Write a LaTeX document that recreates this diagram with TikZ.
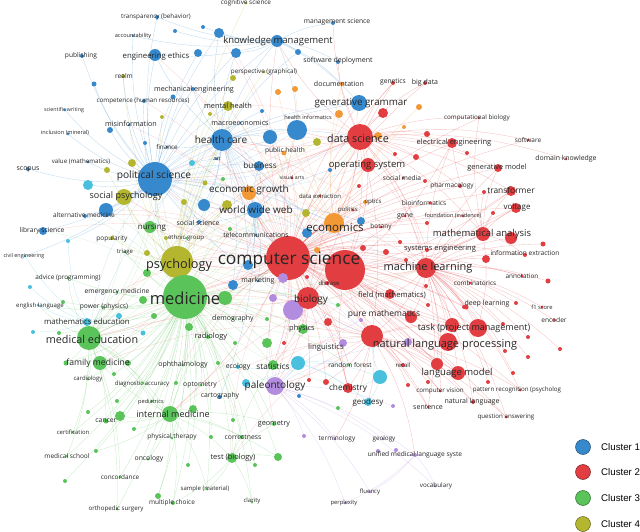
\documentclass[tikz,border=0pt]{standalone}
\usepackage{fontspec}
\setmainfont{Open Sans}
\newfontfamily\legfont{Liberation Sans}
\pgfdeclarelayer{bg}\pgfdeclarelayer{fg}\pgfsetlayers{bg,main,fg}
\definecolor{c1}{RGB}{55,137,205}
\definecolor{c2}{RGB}{226,62,66}
\definecolor{c3}{RGB}{90,195,90}
\definecolor{c4}{RGB}{180,182,48}
\definecolor{c5}{RGB}{72,192,222}
\definecolor{c6}{RGB}{242,152,52}
\definecolor{c7}{RGB}{178,140,222}
\tikzset{dot/.style={circle,inner sep=0pt,draw=none},
 lbl/.style={inner sep=0pt,text=black!85,font=\fontsize{#1}{#1}\selectfont},
 e/.style={line width=0.35pt,draw opacity=0.32},
 ex/.style={line width=0.35pt,draw opacity=0.22},
 legdot/.style={circle,inner sep=0pt,minimum size=15pt,line width=0.5pt},
 legtxt/.style={anchor=west,inner sep=0pt,font=\legfont\fontsize{9.7}{9.7}\selectfont}}
\def\Nd#1#2#3#4#5#6#7#8#9{\node[dot,fill=#2,minimum size=#3*2pt] (#1) at (#4,#5) {};\begin{pgfonlayer}{fg}\node[lbl=#8] (#1-t) at (#6,#7) {#9};\end{pgfonlayer}}
\def\Dt#1#2#3#4#5{\node[dot,fill=#2,minimum size=#3*2pt] (#1) at (#4,#5) {};}
\begin{document}
\begin{tikzpicture}[x=1pt,y=-1pt]
\useasboundingbox (0,0) rectangle (640,532);
% cluster 1 area (top left)
\Nd{tb}{c1}{2}{157}{17}{156}{17}{6.3}{transparency (behavior)}
\Nd{acc}{c1}{1.5}{133}{36}{133}{36}{5.6}{accountability}
\Nd{pub}{c1}{2}{82}{56}{81}{56}{6.6}{publishing}
\Nd{ee}{c1}{6}{155}{55}{156}{56}{7.8}{engineering ethics}
\Dt{b1}{c1}{4}{198}{53}
\Nd{realm}{c4}{2}{123}{76}{124}{76}{6.6}{realm}
\Dt{b2}{c1}{2.5}{94}{84}
\Nd{comp}{c1}{2}{144}{101}{143}{101}{6.3}{competence (human resources)}
\Nd{sw}{c1}{1.5}{65}{110}{64}{110}{5.3}{scientific writing}
\Nd{mis}{c1}{1.5}{129}{125}{131}{124}{7.2}{misinformation}
\Dt{b3}{c1}{3}{110}{130}
\Nd{inc}{c1}{1.5}{68}{134}{65}{133}{5.6}{inclusion (mineral)}
\Dt{b4}{c1}{2}{145}{143}
\Nd{fin}{c1}{1.5}{167}{147}{167}{147}{6.3}{finance}
\Nd{val}{c1}{1.5}{88}{162}{81}{162}{6.2}{value (mathematics)}
\Dt{o1}{c4}{4}{132}{163}
\Dt{o2}{c4}{3}{107}{170}
\Nd{scop}{c1}{2}{28}{169}{28}{169}{7}{scopus}
\Nd{ps}{c1}{17}{155}{179}{154}{176}{10.2}{political science}
\Nd{cog}{c4}{1.5}{246}{3}{246}{3}{6.4}{cognitive science}
\Dt{b5}{c1}{2}{175}{31}
\Dt{b6}{c1}{2}{203}{27}
\Dt{b7}{c1}{5}{219}{33}
\Nd{km}{c1}{6}{277}{41}{278}{41}{9.5}{knowledge management}
\Dt{b8}{c1}{5}{236}{53}
\Dt{b9}{c1}{3}{298}{52}
\Nd{persp}{c4}{1.5}{264}{72}{264}{72}{6.3}{perspective (graphical)}
\Dt{o3}{c4}{3}{233}{78}
\Dt{or1}{c6}{3}{278}{92}
\Dt{or2}{c6}{3}{295}{89}
\Nd{mech}{c1}{2}{193}{89}{194}{90}{7.2}{mechanical engineering}
\Dt{b10}{c1}{2.5}{173}{97}
\Nd{mh}{c4}{5}{228}{106}{228}{106}{7.4}{mental health}
\Dt{b11}{c1}{2}{262}{111}
\Dt{o4}{c4}{2}{162}{117}
\Dt{o5}{c4}{2}{210}{114}
\Nd{macro}{c1}{1.5}{240}{123}{240}{123}{7.2}{macroeconomics}
\Nd{hi}{c1}{10}{297}{130}{308}{117}{5.6}{health informatics}
\Dt{b12}{c1}{7}{270}{137}
\Nd{hc}{c1}{11}{222}{140}{221}{140}{10.1}{health care}
\Dt{o6}{c4}{4}{317}{142}
\Nd{ph}{c6}{2.5}{284}{153}{285}{151}{6.6}{public health}
\Nd{art}{c1}{1.5}{217}{159}{217}{159}{5.5}{art}
\Dt{cy1}{c5}{3}{192}{163}
\Nd{bus}{c1}{5}{259}{166}{260}{165}{8.2}{business}
% top centre/right
\Nd{ms}{c1}{2}{333}{23}{337}{22}{6.7}{management science}
\Nd{sd}{c1}{2}{338}{62}{338}{61}{7}{software deployment}
\Nd{doc}{c6}{2}{342}{84}{339}{84}{7}{documentation}
\Nd{gen}{c2}{2}{393}{83}{393}{82}{6.7}{genetics}
\Nd{bd}{c2}{2}{425}{83}{425}{83}{7}{big data}
\Nd{gg}{c1}{8}{359}{103}{361}{103}{9.8}{generative grammar}
\Dt{r1}{c2}{5}{383}{113}
\Dt{or3}{c6}{3}{419}{107}
\Dt{or4}{c6}{4}{339}{114}
\Nd{cb}{c2}{1.5}{479}{118}{477}{118}{6.3}{computational biology}
\Dt{or5}{c6}{2}{404}{127}
\Dt{r2}{c2}{3}{427}{134}
\Nd{ds}{c2}{13}{360}{137}{358}{138}{10.7}{data science}
\Dt{or6}{c6}{4}{378}{136}
\Nd{elec}{c2}{5}{452}{143}{454}{143}{7.5}{electrical engineering}
\Dt{r3}{c2}{2}{467}{153}
\Dt{r4}{c2}{2}{395}{154}
\Dt{r5}{c2}{3}{416}{157}
\Nd{os}{c2}{7}{368}{165}{367}{165}{9.5}{operating system}
\Nd{gm}{c2}{4}{498}{168}{497}{168}{7.3}{generative model}
\Nd{soft}{c2}{1.5}{528}{140}{528}{140}{6.5}{software}
\Nd{dk}{c2}{1.5}{566}{159}{566}{159}{6.9}{domain knowledge}
\Dt{b13}{c1}{2}{330}{170}
% centre right
\Nd{sm}{c2}{1.5}{403}{178}{402}{178}{6.6}{social media}
\Dt{r6}{c2}{2}{425}{181}
\Nd{pharm}{c2}{2}{460}{186}{452}{186}{6.5}{pharmacology}
\Dt{r7}{c2}{2}{359}{186}
\Nd{opt}{c6}{2}{365}{202}{373}{202}{6.1}{optics}
\Nd{bioinf}{c2}{1.5}{430}{203}{424}{203}{6.6}{bioinformatics}
\Nd{dex}{c2}{1.5}{320}{196}{320}{196}{6}{data extraction}
\Nd{pol}{c2}{1.5}{353}{210}{348}{210}{6}{politics}
\Nd{gene}{c2}{1.5}{405}{216}{405}{216}{7}{gene}
\Nd{fe}{c2}{1.5}{463}{216}{453}{216}{5.6}{foundation (evidence)}
\Dt{b14}{c1}{4}{361}{221}
\Dt{r8}{c2}{2}{427}{223}
\Nd{econ}{c6}{10}{334}{223}{335}{227}{11.5}{economics}
\Nd{bot}{c2}{1.5}{381}{227}{381}{227}{6.5}{botany}
\Dt{r9}{c2}{2}{400}{242}
\Dt{r10}{c2}{3}{363}{248}
\Dt{r11}{c2}{3}{386}{252}
\Nd{se}{c2}{2}{427}{250}{440}{249}{7.5}{systems engineering}
\Dt{r12}{c2}{20}{345}{270}
\Nd{cs}{c2}{22}{288}{258}{289}{260}{17.3}{computer science}
\Dt{r13}{c2}{2}{406}{260}
\Nd{ml}{c2}{10}{426}{268}{428}{268}{11}{machine learning}
\Nd{dis}{c2}{2}{327}{283}{329}{283}{6}{disease}
\Dt{r14}{c2}{2}{426}{286}
\Nd{fm}{c2}{5}{390}{294}{392}{295}{7.6}{field (mathematics)}
\Dt{r15}{c2}{2}{428}{305}
\Dt{r16}{c2}{2.5}{466}{307}
\Dt{g1}{c3}{2}{338}{305}
\Nd{pm}{c2}{6}{411}{317}{384}{314}{8.5}{pure mathematics}
\Dt{p1}{c7}{2}{361}{320}
\Dt{r17}{c2}{4}{328}{322}
\Nd{tpm}{c2}{9}{478}{328}{474}{328}{9}{task (project management)}
\Dt{r18}{c2}{7}{452}{325}
\Nd{nlp}{c2}{11}{372}{336}{445}{345}{11}{natural language processing}
\Dt{r19}{c2}{9}{448}{342}
\Dt{p3}{c7}{4}{408}{342}
\Nd{ling}{c7}{4}{343}{343}{326}{347}{7.8}{linguistics}
% far right
\Nd{tf}{c2}{5}{511}{191}{511}{190}{8.4}{transformer}
\Dt{r20}{c2}{2}{484}{192}
\Nd{volt}{c2}{5}{516}{208}{517}{207}{8}{voltage}
\Dt{r21}{c2}{2}{493}{213}
\Dt{r22}{c2}{6}{511}{238}
\Nd{ma}{c2}{7}{483}{234}{482}{234}{9.5}{mathematical analysis}
\Dt{r23}{c2}{2.5}{543}{244}
\Nd{ie}{c2}{2}{525}{255}{525}{253}{6.6}{information extraction}
\Dt{r24}{c2}{4}{486}{259}
\Nd{ann}{c2}{1.5}{522}{276}{522}{276}{6.4}{annotation}
\Dt{r25}{c2}{2.5}{548}{281}
\Nd{comb}{c2}{1.5}{470}{283}{475}{283}{6.4}{combinatorics}
\Nd{dl}{c2}{2}{464}{307}{487}{304}{7}{deep learning}
\Dt{r26}{c2}{2}{516}{303}
\Nd{fone}{c2}{1.5}{542}{307}{542}{307}{5.8}{f1 score}
\Nd{enc}{c2}{1.5}{554}{320}{554}{320}{6.6}{encoder}
\Dt{r27}{c2}{2}{503}{324}
\Dt{r28}{c2}{2}{528}{337}
\Dt{r29}{c2}{2}{560}{349}
\Dt{r30}{c2}{2}{505}{351}
\Dt{r31}{c2}{2}{528}{357}
\Dt{r32}{c2}{2}{513}{373}
\Dt{r33}{c2}{2}{488}{382}
\Nd{pr}{c2}{1.5}{520}{390}{517}{390}{6.2}{pattern recognition (psycholog}
\Nd{qa}{c2}{1.5}{506}{417}{506}{417}{6.2}{question answering}
% bottom centre
\Nd{rf}{c3}{1.5}{349}{365}{350}{365}{6.5}{random forest}
\Nd{rec}{c2}{2}{403}{365}{403}{365}{6}{recall}
\Dt{r34}{c2}{6}{437}{364}
\Nd{lm}{c2}{7}{458}{373}{457}{373}{9.5}{language model}
\Dt{cy2}{c5}{7}{380}{377}
\Dt{r35}{c2}{3}{326}{382}
\Nd{chem}{c2}{5}{348}{388}{348}{388}{8.3}{chemistry}
\Dt{r36}{c2}{2}{408}{385}
\Dt{r37}{c2}{2}{428}{382}
\Nd{cv}{c2}{1.5}{440}{391}{440}{391}{6.3}{computer vision}
\Nd{geod}{c5}{4}{368}{402}{368}{402}{8}{geodesy}
\Dt{p4}{c7}{2}{393}{406}
\Nd{sent}{c2}{1.5}{428}{407}{428}{407}{7}{sentence}
\Nd{nl}{c2}{2}{473}{402}{472}{402}{7}{natural language}
\Dt{g2}{c3}{2}{338}{408}
\Nd{term}{c7}{1.5}{335}{439}{337}{439}{6.5}{terminology}
\Nd{geol}{c7}{1.5}{383}{439}{384}{439}{6.3}{geology}
\Nd{umls}{c7}{2}{415}{455}{415}{455}{6.6}{unified medical language syste}
\Dt{p5}{c7}{2}{378}{451}
\Dt{p6}{c7}{2}{396}{450}
\Nd{flu}{c7}{1.5}{370}{492}{370}{492}{6}{fluency}
\Nd{voc}{c7}{1.5}{435}{486}{436}{486}{6.3}{vocabulary}
\Nd{perp}{c7}{1.5}{345}{503}{344}{503}{5.8}{perplexity}
% bottom left-centre
\Nd{oph}{c3}{1.5}{183}{365}{183}{365}{7}{ophthalmology}
\Dt{g3}{c3}{2}{218}{363}
\Nd{eco}{c5}{2}{238}{367}{238}{367}{6.9}{ecology}
\Nd{stat}{c3}{5}{273}{365}{273}{367}{8.2}{statistics}
\Dt{cy3}{c5}{7}{298}{363}
\Nd{da}{c3}{1.5}{143}{383}{142}{384}{6}{diagnostic accuracy}
\Dt{g4}{c3}{2}{176}{383}
\Nd{opto}{c3}{1.5}{201}{385}{200}{385}{6.8}{optometry}
\Nd{carto}{c1}{2}{220}{397}{220}{396}{6.8}{cartography}
\Nd{pal}{c7}{9}{275}{386}{275}{386}{10}{paleontology}
\Dt{cy4}{c5}{4}{246}{383}
\Dt{r38}{c2}{2}{309}{380}
\Dt{b15}{c1}{2}{299}{396}
\Dt{g5}{c3}{4}{193}{409}
\Nd{im}{c3}{8}{170}{414}{173}{414}{9}{internal medicine}
\Dt{g6}{c3}{2}{233}{420}
\Nd{geom}{c3}{2}{274}{424}{274}{424}{7.2}{geometry}
\Dt{p7}{c7}{2}{304}{436}
\Nd{corr}{c3}{2}{242}{437}{243}{437}{6.8}{correctness}
\Dt{g7}{c3}{2}{211}{437}
\Nd{test}{c3}{5}{232}{458}{233}{458}{7.5}{test (biology)}
\Dt{g8}{c3}{4}{278}{457}
\Dt{g9}{c3}{2}{188}{465}
\Dt{g10}{c3}{2}{255}{465}
\Nd{samp}{c3}{1.5}{207}{489}{205}{489}{6}{sample (material)}
\Nd{clar}{c3}{1.5}{252}{502}{252}{501}{6}{clarity}
\Nd{mc}{c3}{2}{173}{503}{172}{503}{6.5}{multiple choice}
\Dt{g11}{c3}{3}{158}{496}
\Nd{famm}{c3}{7}{100}{363}{98}{363}{8.6}{family medicine}
\Dt{g12}{c3}{2.5}{66}{363}
\Dt{g13}{c3}{3}{128}{363}
\Dt{g14}{c3}{2}{114}{374}
\Nd{card}{c3}{1.5}{88}{379}{88}{379}{6}{cardiology}
\Dt{g15}{c3}{2}{117}{401}
\Nd{ped}{c3}{1.5}{152}{401}{151}{402}{5.6}{pediatrics}
\Dt{g16}{c3}{2}{88}{412}
\Nd{canc}{c3}{2.5}{106}{421}{106}{421}{6.8}{cancer}
\Dt{g17}{c3}{5}{120}{416}
\Dt{g18}{c3}{2}{134}{429}
\Nd{cert}{c3}{1.5}{73}{432}{73}{432}{5.9}{certification}
\Nd{pt}{c3}{1.5}{172}{438}{172}{437}{6.5}{physical therapy}
\Dt{g19}{c3}{2}{96}{451}
\Nd{msch}{c3}{1.5}{67}{456}{67}{456}{6.5}{medical school}
\Nd{onc}{c3}{1.5}{148}{459}{149}{459}{6.8}{oncology}
\Dt{g20}{c3}{2}{65}{481}
\Nd{conc}{c3}{1.5}{120}{477}{120}{477}{6.4}{concordance}
\Nd{orth}{c3}{1.5}{117}{509}{116}{509}{6.2}{orthopedic surgery}
% left middle
\Dt{cy5}{c5}{5}{88}{185}
\Nd{sp}{c4}{8}{124}{197}{126}{196}{9}{social psychology}
\Dt{b16}{c1}{7}{106}{210}
\Nd{alt}{c1}{2}{85}{216}{84}{215}{6.5}{alternative medicine}
\Nd{lib}{c1}{4}{43}{231}{42}{231}{6.7}{library science}
\Dt{cy6}{c5}{2}{68}{241}
\Nd{pop}{c4}{2}{112}{238}{112}{239}{6.5}{popularity}
\Nd{nurs}{c3}{6}{150}{227}{152}{228}{8}{nursing}
\Nd{tri}{c3}{1.5}{125}{252}{125}{252}{6}{triage}
\Dt{o7}{c4}{3}{147}{253}
\Nd{civ}{c5}{1.5}{25}{256}{24}{256}{5.4}{civil engineering}
\Dt{g21}{c3}{4}{147}{273}
\Nd{adv}{c3}{1.5}{68}{278}{68}{278}{6.4}{advice (programming)}
\Dt{cy7}{c5}{2}{30}{287}
\Nd{em}{c3}{1.5}{117}{292}{117}{292}{6.7}{emergency medicine}
\Dt{g22}{c3}{4}{143}{300}
\Nd{el}{c5}{1.5}{38}{305}{40}{306}{6.1}{english language}
\Dt{g23}{c3}{2}{63}{302}
\Nd{pow}{c3}{1.5}{103}{307}{104}{307}{6.7}{power (physics)}
\Dt{cy8}{c5}{3}{119}{316}
\Dt{g24}{c3}{3}{154}{316}
\Nd{mathed}{c5}{4}{87}{322}{87}{322}{7.8}{mathematics education}
\Dt{cy9}{c5}{2}{33}{332}
\Dt{g25}{c3}{2}{59}{333}
\Dt{cy10}{c5}{2.5}{143}{333}
\Nd{medEd}{c3}{12}{89}{338}{92}{339}{10.8}{medical education}
% centre
\Dt{o8}{c4}{2.5}{205}{183}
\Dt{g26}{c3}{2}{223}{179}
\Nd{eg}{c6}{7}{249}{193}{249}{190}{9.9}{economic growth}
\Nd{va}{c2}{1.5}{292}{178}{292}{178}{5.2}{visual arts}
\Dt{o9}{c4}{3}{184}{202}
\Dt{b17}{c1}{6}{204}{205}
\Dt{o10}{c4}{5}{227}{205}
\Nd{www}{c1}{8}{255}{210}{256}{210}{10}{world wide web}
\Dt{o11}{c4}{4}{306}{213}
\Nd{ss}{c1}{2}{199}{222}{198}{223}{6.8}{social science}
\Dt{b18}{c1}{5}{307}{233}
\Nd{eth}{c3}{1.5}{186}{238}{186}{238}{6.1}{ethnic group}
\Nd{tel}{c1}{1.5}{256}{235}{256}{235}{6.9}{telecommunications}
\Dt{g27}{c3}{2}{230}{229}
\Dt{o12}{c4}{2}{166}{238}
\Dt{or7}{c6}{3}{317}{250}
\Nd{psy}{c4}{16}{177}{262}{179}{265}{12.7}{psychology}
\Dt{b19}{c1}{5}{248}{265}
\Nd{mkt}{c1}{1.5}{258}{281}{258}{281}{7}{marketing}
\Dt{p8}{c7}{5}{283}{278}
\Dt{r39}{c2}{2}{307}{277}
\Dt{b20}{c1}{5}{233}{285}
\Nd{med}{c3}{22}{185}{297}{185}{298}{16.5}{medicine}
\Dt{g28}{c3}{7}{225}{298}
\Dt{p9}{c7}{4}{273}{298}
\Dt{p10}{c7}{10}{293}{310}
\Nd{bio}{c2}{11}{308}{298}{311}{300}{10}{biology}
\Nd{dem}{c3}{1.5}{233}{319}{233}{319}{7}{demography}
\Dt{g29}{c3}{2}{267}{319}
\Dt{g30}{c3}{4}{189}{327}
\Nd{rad}{c3}{2}{208}{337}{211}{337}{7.5}{radiology}
\Nd{phys}{c3}{5}{303}{329}{302}{329}{7.5}{physics}
\Dt{g31}{c3}{5}{267}{343}
\Dt{r40}{c2}{2}{284}{343}
\Dt{g32}{c3}{2}{235}{343}
% connectors
\begin{pgfonlayer}{bg}
\foreach \t in {ds,os,ml,nlp,ma,fm,pm,tpm,lm,bio,econ,se,tf,volt,elec,gm,r12,bioinf,sm,gen,bd,chem,rec,cv,sent,nl,dl,comb,ie,ann,pharm,gene,fe,dis,rf,www,eg,hc,med,psy,ps,stat,pal,phys,hi,bus,gg,ling,r34,r18,r19,pr,qa,cb,soft,mkt,tel,dex,pol,opt,bot,r6,r7,r8,r9,r10,r11,r13,r14,r15,r16,r17,r35,r38,r39,r40,km,medEd,im,sp,nurs}
  \draw[e,c2] (cs) to[bend left=10] (\t);
\foreach \t in {mis,fin,comp,mech,ee,b7,b8,b12,b16,b17,b18,b19,b20,alt,lib,mh,famm,em,oph,rad,stat,test,geom,dem,g28,g30,va,ph,art,ss,eth}
  \draw[ex,c2] (cs) to[bend right=14] (\t);
\foreach \t in {ds,ml,nlp,ma,pm,fm,tpm,lm,bio,chem,se,econ,r18,r19,r34,elec,tf,volt,os,med,psy}
  \draw[e,c2] (r12) to[bend right=10] (\t);
\foreach \t in {ml,nlp,os,elec,gm,cb,bd,gen,ma,tf,se,r1,r2,r3,r4,r5,hi,gg,km,sd,ms,econ,bio,ps,hc,soft,dk,sm,pharm}
  \draw[e,c2] (ds) to[bend left=10] (\t);
\foreach \t in {med,psy,www,mh,bus,b12,eg,medEd,sp}
  \draw[ex,c2] (ds) to[bend right=15] (\t);
\foreach \t in {nlp,tpm,lm,ma,tf,volt,ie,ann,comb,dl,fone,enc,pr,qa,cv,sent,nl,fm,pm,r22,r23,r24,r25,r26,r27,r28,r29,r30,r31,r32,r33,gm,elec,r16,r18,r19,r34}
  \draw[e,c2] (ml) to[bend left=10] (\t);
\foreach \t in {med,medEd,psy,ps,hc,im,stat,os,ds}
  \draw[ex,c2] (ml) to[bend right=15] (\t);
\foreach \t in {lm,tpm,chem,rec,cv,sent,nl,umls,term,ling,pal,geod,r34,r36,r37,r17,r35,bio,qa,pr,r18}
  \draw[e,c2] (nlp) to[bend left=10] (\t);
\foreach \t in {med,medEd,im,ps,hc,psy,famm,stat,test}
  \draw[ex,c2] (nlp) to[bend right=15] (\t);
\foreach \t in {tf,volt,gm,elec,ie,r20,r21,r22,cb,se,tpm}
  \draw[e,c2] (ma) to[bend left=10] (\t);
\foreach \t in {pal,phys,chem,stat,med,psy,gen,gene,dis,p10,p9}
  \draw[e,c2] (bio) to[bend left=10] (\t);
\foreach \t in {medEd,famm,im,nurs,em,rad,oph,da,ped,canc,cert,pt,msch,onc,conc,orth,mc,samp,test,corr,geom,stat,psy,ps,sp,hc,el,adv,pow,mathed,tri,card,dem,phys,eth,rf,clar,g1,g3,g4,g5,g6,g7,g8,g9,g10,g11,g12,g13,g14,g15,g16,g17,g18,g19,g20,g21,g22,g23,g24,g25,g26,g27,g28,g29,g30,g31,g32,bio,opto}
  \draw[e,c3] (med) to[bend left=10] (\t);
\foreach \t in {cs,ds,ml,nlp,r12,pal,chem,econ,www,mh,hi,b16,alt,pop,lib}
  \draw[ex,c3] (med) to[bend right=14] (\t);
\foreach \t in {famm,im,em,pow,mathed,el,adv,card,canc,cert,msch,g12,g13,g14,g22,g24,ped,da,conc,orth}
  \draw[e,c3] (medEd) to[bend left=10] (\t);
\foreach \t in {ps,sp,psy,cs,nurs,hc}
  \draw[ex,c3] (medEd) to[bend right=14] (\t);
\foreach \t in {famm,pt,onc,test,mc,canc,da,ped,g17,g18,g19,corr,geom,samp,g5,g8,g11,rad,oph}
  \draw[e,c3] (im) to[bend left=10] (\t);
\foreach \t in {corr,geom,clar,samp,mc,g8,g10,stat}
  \draw[e,c3] (test) to[bend left=10] (\t);
\foreach \t in {sp,pop,tri,realm,mh,persp,cog,o1,o2,o3,o4,o5,o6,o7,o8,o9,o10,o11,o12,ps,hc,nurs,www,eg}
  \draw[e,c4] (psy) to[bend left=10] (\t);
\foreach \t in {cs,medEd,ml,nlp,ds,econ}
  \draw[ex,c4] (psy) to[bend right=14] (\t);
\foreach \t in {hc,ee,km,mis,pub,scop,acc,tb,comp,sw,inc,val,fin,mech,alt,lib,b1,b2,b3,b4,b10,b16,b17,www,bus,art,civ,sp,econ,gg,realm,cy5,cy6,ss,eg,mh,macro,b7,b8}
  \draw[e,c1] (ps) to[bend left=10] (\t);
\foreach \t in {cs,ds,med,psy,nlp,ml,bio,medEd,hi,b12,os,ma}
  \draw[ex,c1] (ps) to[bend right=14] (\t);
\foreach \t in {km,hi,bus,ph,b7,b8,b12,mh,macro,www,ee,mech,b9,b11,art,ds,gg,fin,ss,tel,b17,b18,b19,b20}
  \draw[e,c1] (hc) to[bend left=10] (\t);
\foreach \t in {med,psy,cs,nlp,ml,medEd,nurs,sp,econ}
  \draw[ex,c1] (hc) to[bend right=14] (\t);
\foreach \t in {ms,sd,gg,b5,b6,b7,b8,b9,tb,ee,hi,acc,doc}
  \draw[e,c1] (km) to[bend left=10] (\t);
\foreach \t in {tel,b17,b18,b19,b20,mkt,bus,ss,carto,b14,b13}
  \draw[e,c1] (www) to[bend left=10] (\t);
\foreach \t in {eg,or1,or2,or3,or4,or5,or6,or7,doc,ph,opt,ds,macro,pol}
  \draw[e,c6] (econ) to[bend left=10] (\t);
\foreach \t in {geod,chem,cy2,eco,stat,pal,cy4,rf}
  \draw[e,c5] (cy3) to[bend left=10] (\t);
\foreach \t in {geod,nlp,chem}
  \draw[e,c5] (cy2) to[bend left=10] (\t);
\foreach \t in {cy8,cy9,cy10,el,civ,cy7,cy6}
  \draw[e,c5] (mathed) to[bend left=10] (\t);
\foreach \t in {p1,p3,p4,p7,p9,p10,term,umls,geol,perp,ling,flu,voc}
  \draw[e,c7] (pal) to[bend left=10] (\t);
\foreach \t in {ling,p8,p9}
  \draw[e,c7] (p10) to[bend left=10] (\t);
\foreach \t in {p5,p6,voc,flu,perp}
  \draw[e,c7] (umls) to[bend left=10] (\t);
\end{pgfonlayer}
% legend
\node[legdot,fill=c1,draw=c1!55!black] (k1) at (583,447) {};
\node[legdot,fill=c2,draw=c2!55!black] (k2) at (583,472) {};
\node[legdot,fill=c3,draw=c3!55!black] (k3) at (583,498) {};
\node[legdot,fill=c4,draw=c4!55!black] (k4) at (583,524) {};
\node[legtxt] (k1t) at (601,447) {Cluster 1};
\node[legtxt] (k2t) at (601,472) {Cluster 2};
\node[legtxt] (k3t) at (601,498) {Cluster 3};
\node[legtxt] (k4t) at (601,524) {Cluster 4};
\end{tikzpicture}
\end{document}
